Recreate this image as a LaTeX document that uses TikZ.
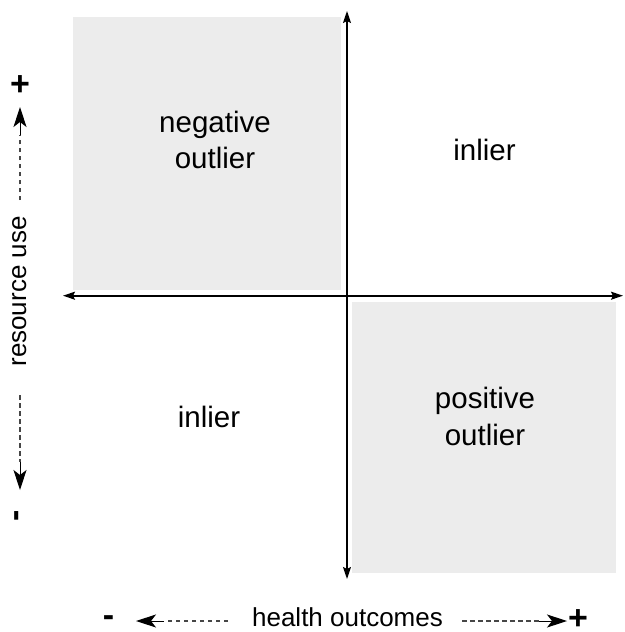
\documentclass[tikz,border=0pt]{standalone}
\usepackage{fontspec}
\setmainfont{Liberation Sans}
\usetikzlibrary{arrows.meta}
\definecolor{quadfill}{RGB}{236,236,236}
\definecolor{dashgray}{RGB}{70,70,70}
\begin{document}
\begin{tikzpicture}[x=1pt,y=-1pt,
  quadbox/.style={fill=quadfill,draw=none},
  axisline/.style={line width=1.6pt,-{Stealth[length=12pt,width=8pt,inset=2pt]}},
  quadlabel/.style={font=\fontsize{29.5}{36.5}\selectfont,align=center,inner sep=0pt},
  axlabel/.style={font=\fontsize{26}{30}\selectfont,inner sep=0pt},
  signlabel/.style={font=\fontsize{34}{36}\bfseries\selectfont,inner sep=0pt},
  dashline/.style={draw=dashgray,line width=1.3pt,dash pattern=on 4.5pt off 3.5pt},
  headtip/.style={draw=black,solid,line width=1pt,
    -{Stealth[length=20pt 0,width=13pt 0,inset=5pt 0]}}]
\useasboundingbox (0,0) rectangle (624,632);

% shaded outlier quadrants
\fill[quadbox] (73.3,17.3) rectangle (340.7,290);
\fill[quadbox] (351.7,301.7) rectangle (616,572.7);

% axes
\coordinate (origin) at (347,295.7);
\coordinate (ytop) at (347,11);
\coordinate (ybot) at (347,579);
\coordinate (xleft) at (63,295.7);
\coordinate (xright) at (623,295.7);
\draw[axisline] (origin) -- (ytop);
\draw[axisline] (origin) -- (ybot);
\draw[axisline] (origin) -- (xleft);
\draw[axisline] (origin) -- (xright);

% quadrant labels
\node[quadlabel] (negout) at (215,140) {negative\\outlier};
\node[quadlabel,anchor=base] (inlierTR) at (484.5,160.7) {inlier};
\node[quadlabel,anchor=base] (inlierBL) at (209,427) {inlier};
\node[quadlabel] (posout) at (485,416.3) {positive\\outlier};

% vertical legend: resource use
\node[axlabel,rotate=90,anchor=base] (resuse) at (26,291.5) {resource use};
\node[signlabel] (plusL) at (20,86) {+};
\node[signlabel,rotate=90] (minusL) at (20,515.5) {-};
\coordinate (upstart) at (20,200);
\coordinate (upbase) at (20,135);
\coordinate (uptip) at (20,107);
\coordinate (downstart) at (20,395);
\coordinate (downbase) at (20,462);
\coordinate (downtip) at (20,490);
\draw[dashline] (upstart) -- (upbase);
\draw[headtip] (upbase) -- (uptip);
\draw[dashline] (downstart) -- (downbase);
\draw[headtip] (downbase) -- (downtip);

% horizontal legend: health outcomes
\node[axlabel,anchor=base] (health) at (347.5,626) {health outcomes};
\node[signlabel] (minusB) at (108.5,621) {-};
\node[signlabel] (plusB) at (578,620) {+};
\coordinate (leftstart) at (228,621);
\coordinate (leftbase) at (164,621);
\coordinate (lefttip) at (136,621);
\coordinate (rightstart) at (462,621);
\coordinate (rightbase) at (539,621);
\coordinate (righttip) at (567,621);
\draw[dashline] (leftstart) -- (leftbase);
\draw[headtip] (leftbase) -- (lefttip);
\draw[dashline] (rightstart) -- (rightbase);
\draw[headtip] (rightbase) -- (righttip);
\end{tikzpicture}
\end{document}
